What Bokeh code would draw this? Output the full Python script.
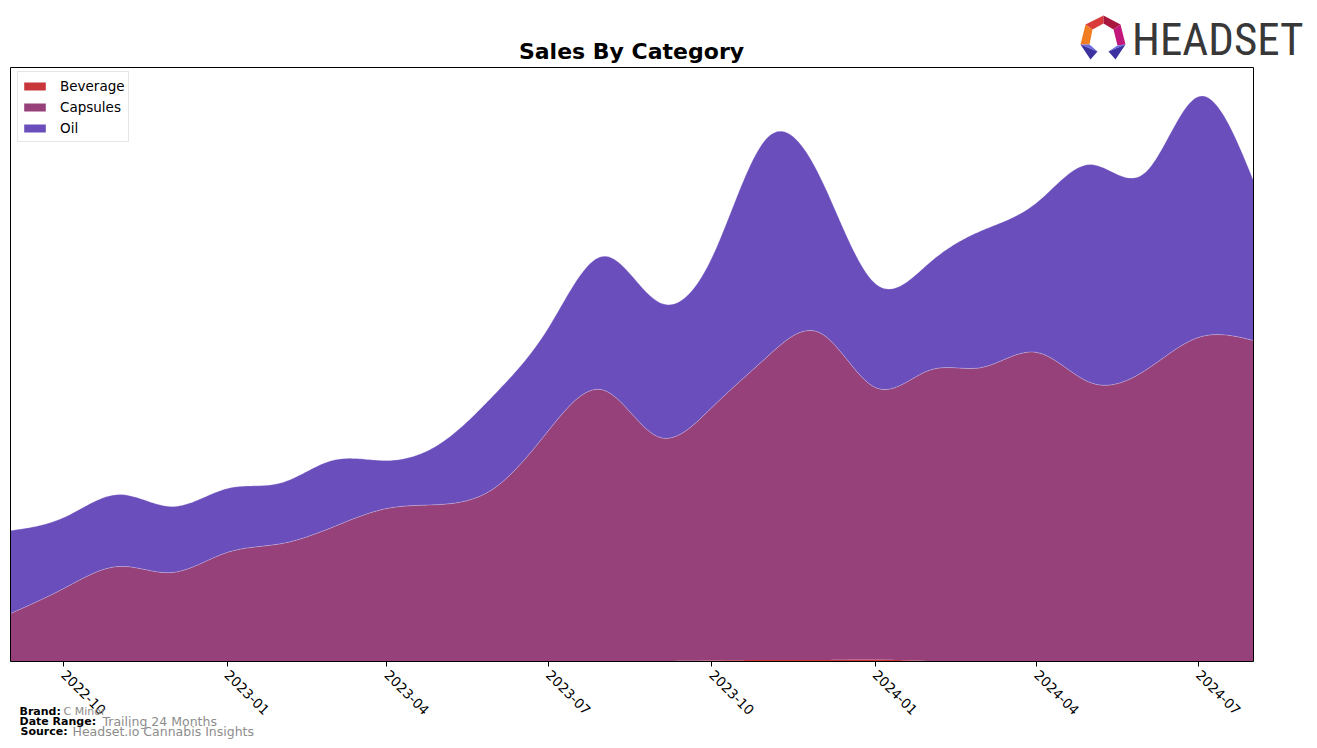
import numpy as np
import pandas as pd
from bokeh.plotting import figure
from bokeh.models import (ColumnDataSource, Range1d, FixedTicker, DatetimeTickFormatter, Label,
                          PolyAnnotation, BoxAnnotation)
from bokeh.embed import file_html
from bokeh.resources import INLINE

# ---------------- data ----------------
months = ["2022-09", "2022-10", "2022-11", "2022-12", "2023-01", "2023-02", "2023-03", "2023-04",
          "2023-05", "2023-06", "2023-07", "2023-08", "2023-09", "2023-10", "2023-11", "2023-12",
          "2024-01", "2024-02", "2024-03", "2024-04", "2024-05", "2024-06", "2024-07", "2024-08"]
beverage = [0, 0, 0, 0, 0, 0, 0, 0, 0, 0, 0, 0.3, 0.5, 1, 1.5, 1.5, 2, 0.5, 0, 0, 0, 0, 0, 0]
capsules = [48, 73, 95, 89, 109, 118, 134, 153, 157, 174, 231, 271, 224, 253, 303, 327,
            272, 291, 294, 309, 279, 291, 324, 321]
oil = [83, 71, 72, 66, 64, 61, 67, 48, 61, 94, 103, 134, 135, 150, 219, 156,
       104, 108, 137, 150, 218, 198, 241, 160]
categories = ["Beverage", "Capsules", "Oil"]
colors = ["#C8363A", "#96417A", "#6A4EBC"]
tick_labels = ["2022-10", "2023-01", "2023-04", "2023-07", "2023-10", "2024-01", "2024-04", "2024-07"]
y_top = 594  # upper limit of the value axis


def natural_cubic(x, y, xs):
    x = np.asarray(x, float)
    y = np.asarray(y, float)
    n = len(x)
    h = np.diff(x)
    A = np.zeros((n, n))
    r = np.zeros(n)
    A[0, 0] = 1
    A[-1, -1] = 1
    for i in range(1, n - 1):
        A[i, i - 1] = h[i - 1]
        A[i, i] = 2 * (h[i - 1] + h[i])
        A[i, i + 1] = h[i]
        r[i] = 3 * ((y[i + 1] - y[i]) / h[i] - (y[i] - y[i - 1]) / h[i - 1])
    c = np.linalg.solve(A, r)
    b = (y[1:] - y[:-1]) / h - h * (2 * c[:-1] + c[1:]) / 3
    d = (c[1:] - c[:-1]) / (3 * h)
    idx = np.clip(np.searchsorted(x, xs) - 1, 0, n - 2)
    dx = xs - x[idx]
    return y[idx] + b[idx] * dx + c[idx] * dx ** 2 + d[idx] * dx ** 3


dates = pd.to_datetime(months)
t0 = dates[0]
xd = np.array([(d - t0).days for d in dates], float)
xs = np.linspace(xd[0], xd[-1], 600)
series = {}
for name, vals in zip(categories, [beverage, capsules, oil]):
    series[name] = np.clip(natural_cubic(xd, vals, xs), 0, None)

sx = t0 + pd.to_timedelta(xs, unit="D")
src = ColumnDataSource(data=dict(x=sx, **series))
top_caps = series["Beverage"] + series["Capsules"]
top_oil = top_caps + series["Oil"]
src.data["top_caps"] = top_caps
src.data["top_oil"] = top_oil

# ---------------- layout geometry (page pixels) ----------------
W, H = 1310, 742
PL, PR, PT, PB = 10, 1253, 67, 661   # plot box edges on the page

ms0 = dates[0].value / 1e6
ms1 = dates[-1].value / 1e6
mpp = (ms1 - ms0) / (PR - PL)
upp = y_top / (PB - PT)

p = figure(width=W, height=H, x_axis_type="datetime", y_axis_location=None, title=None,
           output_backend="svg", toolbar_location=None,
           min_border_left=0, min_border_right=0, min_border_top=0, min_border_bottom=0)
p.x_range = Range1d(ms0 - PL * mpp, ms1 + (W - PR) * mpp)
p.y_range = Range1d(-(H - PB) * upp, PB * upp)

p.varea_stack(stackers=categories, x="x", source=src, color=colors, legend_label=categories)
p.line("x", "top_caps", source=src, color="white", alpha=0.35, line_width=0.8)
p.line("x", "top_oil", source=src, color="white", alpha=0.35, line_width=0.8)

p.add_layout(BoxAnnotation(left=ms0, right=ms1, bottom=0, top=y_top, fill_color=None,
                           line_color="black", line_width=1, line_alpha=1))

p.xgrid.visible = False
p.ygrid.visible = False
p.outline_line_color = None
p.background_fill_color = "white"
p.border_fill_color = "white"

ax = p.xaxis[0]
ax.fixed_location = 0
ax.ticker = FixedTicker(ticks=[pd.Timestamp(t).value / 1e6 for t in tick_labels])
ax.formatter = DatetimeTickFormatter(months="%Y-%m", days="%Y-%m", years="%Y-%m")
ax.major_label_orientation = -np.pi / 4
ax.major_label_text_font = "DejaVu Sans"
ax.major_label_text_font_size = "13.5px"
ax.major_label_text_color = "black"
ax.axis_line_color = None
ax.major_tick_line_color = "black"
ax.major_tick_out = 5
ax.major_tick_in = 0
ax.minor_tick_line_color = None
ax.major_label_standoff = 6

leg = p.legend[0]
leg.location = (17, H - 142)
leg.margin = 0
leg.padding = 3
leg.spacing = 0
leg.glyph_width = 27
leg.glyph_height = 10
leg.label_standoff = 12
leg.label_height = 21
leg.label_text_font = "DejaVu Sans"
leg.label_text_font_size = "13.5px"
leg.label_text_color = "black"
leg.border_line_color = "#cccccc"
leg.border_line_width = 1
leg.background_fill_alpha = 0.9


def lab(text, px, py, size, color="black", bold=False, align="left", baseline="middle", font="DejaVu Sans"):
    p.add_layout(Label(x=px, y=H - py, x_units="screen", y_units="screen", text=text,
                       text_font=font, text_font_size=size, text_color=color,
                       text_font_style="bold" if bold else "normal",
                       text_align=align, text_baseline=baseline))


lab("Sales By Category", 631, 51, "22px", bold=True, align="center")
lab("HEADSET", 1303, 39, "45px", color="#383838", align="right",
    font="'Liberation Sans Narrow', 'Roboto Condensed', 'DejaVu Sans Condensed', sans-serif")

lab("Brand:", 19, 711, "11px", bold=True)
lab("C Minor", 63, 711, "11px", color="#8c8c8c")
lab("Date Range:", 19, 721, "11px", bold=True)
lab("Trailing 24 Months", 102, 721, "12.5px", color="#8c8c8c")
lab("Source:", 20, 731, "11px", bold=True)
lab("Headset.io Cannabis Insights", 72, 731, "12.5px", color="#8c8c8c")

# logo icon
icon = [
    ([1085, 1103, 1103, 1092], [24, 15, 23, 29], "#D93A3A"),
    ([1103, 1120, 1113, 1103], [15, 24, 29, 23], "#A8173E"),
    ([1120, 1125, 1117, 1113], [24, 44, 45, 29], "#C2177A"),
    ([1085, 1092, 1089, 1080], [24, 29, 44, 44], "#F07D22"),
    ([1080, 1089, 1097], [44, 44, 51], "#6C6CE0"),
    ([1080, 1097, 1090], [44, 51, 59], "#3B32A0"),
    ([1125, 1117, 1108], [44, 45, 51], "#6C6CE0"),
    ([1125, 1108, 1115], [44, 51, 59], "#3B32A0"),
]
for xsq, ysq, c in icon:
    p.add_layout(PolyAnnotation(xs=xsq, ys=[H - y for y in ysq],
                                xs_units="screen", ys_units="screen",
                                fill_color=c, fill_alpha=1, line_color=None))

open("out.html", "w").write(file_html(p, INLINE))
